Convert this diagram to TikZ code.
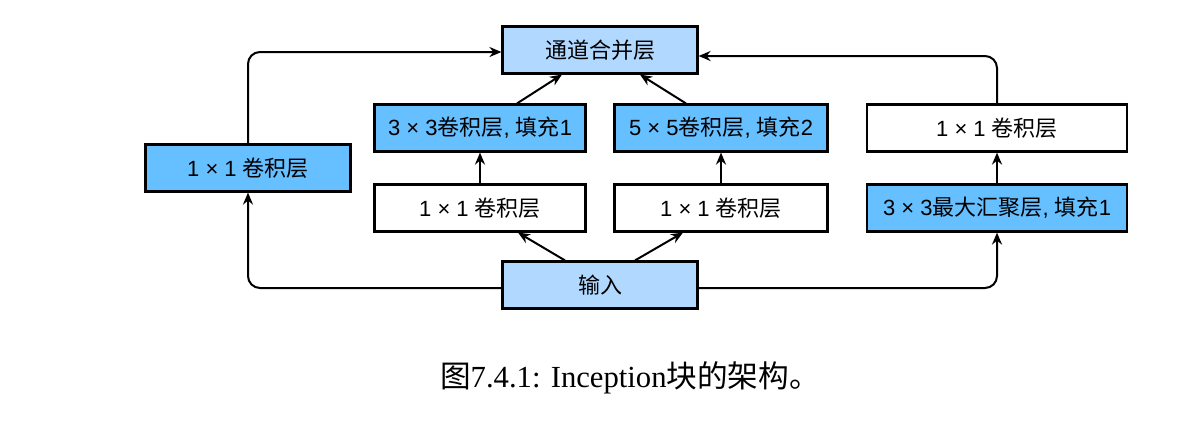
\documentclass[tikz,border=0pt]{standalone}
\usepackage{fontspec}
\usepackage{tikz}
\usetikzlibrary{arrows.meta,calc}
\setmainfont{Liberation Sans}
\newfontfamily\cjk{Noto Sans CJK SC}
\newfontfamily\capfont{Liberation Serif}
\definecolor{darkblue}{RGB}{102,191,255}
\definecolor{lightblue}{RGB}{177,216,255}
\tikzset{
  layer/.style={draw=black, line width=1.6pt, minimum height=47*0.75pt, inner sep=0pt, font=\fontsize{16.5}{19}\selectfont},
  conn/.style={line width=1.5pt, -{Stealth[length=9pt,width=7.5pt]}},
  elbow/.style={conn, rounded corners=9pt}
}

\begin{document}
\begin{tikzpicture}[x=0.75pt,y=0.75pt,yscale=-1,xscale=1]
\path (0,0) rectangle (1193,430); %set diagram to 1193 x 430

% Layer Nodes
\draw (600,50) node [layer, fill=lightblue, minimum width=195*0.75pt] (concat) {{\cjk 通道合并层}};
\draw (480,128) node [layer, fill=darkblue, minimum width=211*0.75pt] (convA) {3 × 3{\cjk 卷积层}, {\cjk 填充}1};
\draw (721,128) node [layer, fill=darkblue, minimum width=213*0.75pt] (convB) {5 × 5{\cjk 卷积层}, {\cjk 填充}2};
\draw (997,128) node [layer, fill=white, minimum width=260*0.75pt] (convD) {1 × 1 {\cjk 卷积层}};
\draw (248,168) node [layer, fill=darkblue, minimum width=205*0.75pt] (convL) {1 × 1 {\cjk 卷积层}};
\draw (480,208) node [layer, fill=white, minimum width=211*0.75pt] (redA) {1 × 1 {\cjk 卷积层}};
\draw (721,208) node [layer, fill=white, minimum width=213*0.75pt] (redB) {1 × 1 {\cjk 卷积层}};
\draw (997,208) node [layer, fill=darkblue, minimum width=260*0.75pt] (pool) {3 × 3{\cjk 最大汇聚层}, {\cjk 填充}1};
\draw (600,285) node [layer, fill=lightblue, minimum width=195*0.75pt] (input) {{\cjk 输入}};

%Straight Lines
\draw [conn] ($(input.north)+(-35,0)$) -- ($(redA.south)+(38,0)$);
\draw [conn] ($(input.north)+(35,0)$) -- ($(redB.south)+(-38,0)$);
\draw [conn] (redA) -- (convA);
\draw [conn] (redB) -- (convB);
\draw [conn] (pool) -- (convD);
\draw [conn] ($(convA.north)+(37,0)$) -- ($(concat.south)+(-38,0)$);
\draw [conn] ($(convB.north)+(-35,0)$) -- ($(concat.south)+(40,0)$);

%Elbow Lines
\draw [elbow] (input.west |- 0,288) -| (convL.south);
\draw [elbow] (convL.north) |- (concat.west |- 0,52);
\draw [elbow] (input.east |- 0,288) -| (pool.south);
\draw [elbow] (convD.north) |- (concat.east |- 0,56);

% Caption
\draw (630,378) node [font=\fontsize{23}{26}\selectfont\capfont] (caption) {{\cjk 图}7.4.1: Inception{\cjk 块的架构。}};

\end{tikzpicture}
\end{document}
